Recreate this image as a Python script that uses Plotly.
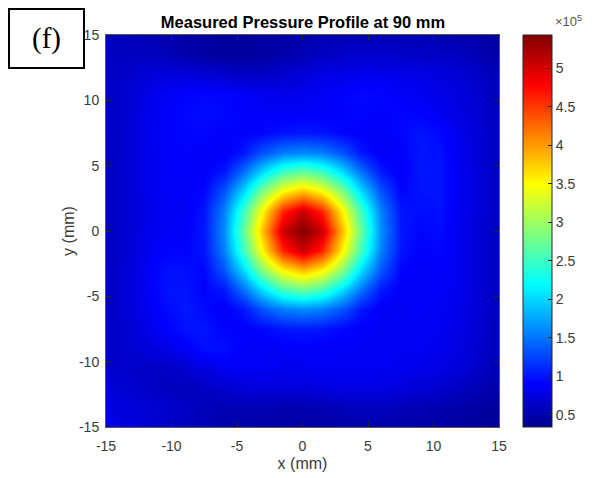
import plotly.graph_objects as go

# grid coordinates (mm)
x_mm = [-15, -13.5, -12, -10.5, -9, -7.5, -6, -4.5, -3, -1.5, 0, 1.5, 3, 4.5, 6, 7.5, 9, 10.5, 12, 13.5, 15]
y_mm = [15, 13.5, 12, 10.5, 9, 7.5, 6, 4.5, 3, 1.5, 0, -1.5, -3, -4.5, -6, -7.5, -9, -10.5, -12, -13.5, -15]

# measured pressure (x 1e5 Pa), rows follow y_mm (top to bottom)
pressure_1e5 = [
    [0.62,0.58,0.54,0.50,0.47,0.45,0.44,0.44,0.45,0.47,0.50,0.52,0.54,0.55,0.55,0.55,0.54,0.52,0.50,0.48,0.44],
    [0.60,0.60,0.60,0.56,0.50,0.45,0.42,0.42,0.45,0.50,0.55,0.60,0.64,0.66,0.66,0.64,0.63,0.62,0.60,0.54,0.47],
    [0.60,0.64,0.70,0.74,0.72,0.70,0.66,0.62,0.62,0.66,0.72,0.78,0.80,0.82,0.82,0.80,0.78,0.74,0.70,0.62,0.52],
    [0.60,0.68,0.78,0.86,0.90,0.93,0.92,0.88,0.83,0.80,0.82,0.86,0.90,0.95,0.92,0.88,0.84,0.80,0.74,0.66,0.54],
    [0.60,0.68,0.80,0.88,0.94,0.96,0.94,0.90,0.88,0.87,0.88,0.89,0.90,0.92,0.90,0.92,0.92,0.84,0.76,0.68,0.56],
    [0.60,0.68,0.80,0.89,0.93,0.93,0.90,0.90,0.93,1.00,1.02,1.00,0.93,0.89,0.87,0.93,1.00,0.94,0.80,0.70,0.56],
    [0.58,0.68,0.80,0.88,0.91,0.88,0.87,1.02,1.34,1.55,1.62,1.55,1.34,1.02,0.86,0.90,1.02,0.98,0.82,0.70,0.56],
    [0.58,0.68,0.80,0.88,0.89,0.88,1.02,1.48,2.04,2.53,2.72,2.53,2.04,1.48,1.02,0.87,1.02,1.00,0.84,0.72,0.57],
    [0.58,0.68,0.80,0.87,0.87,0.93,1.34,2.04,2.90,3.55,3.85,3.55,2.90,2.04,1.34,0.92,1.00,1.00,0.84,0.72,0.58],
    [0.58,0.68,0.79,0.85,0.86,1.00,1.55,2.53,3.55,4.60,5.05,4.60,3.55,2.53,1.55,1.00,0.97,0.98,0.84,0.72,0.58],
    [0.58,0.68,0.80,0.87,0.88,1.02,1.62,2.72,3.85,5.05,5.43,5.05,3.85,2.72,1.62,1.02,0.93,0.96,0.82,0.70,0.57],
    [0.58,0.68,0.82,0.91,0.91,1.00,1.55,2.53,3.55,4.60,5.05,4.60,3.55,2.53,1.55,1.00,0.89,0.93,0.82,0.70,0.57],
    [0.60,0.70,0.84,0.98,0.97,0.93,1.34,2.04,2.90,3.55,3.85,3.55,2.90,2.04,1.34,0.92,0.87,0.90,0.82,0.70,0.56],
    [0.60,0.70,0.84,0.99,1.01,0.91,1.02,1.48,2.04,2.53,2.72,2.53,2.04,1.48,1.02,0.87,0.87,0.88,0.82,0.70,0.56],
    [0.60,0.70,0.82,0.95,1.03,0.95,0.87,1.02,1.34,1.55,1.62,1.55,1.34,1.02,0.86,0.86,0.87,0.86,0.80,0.70,0.55],
    [0.60,0.68,0.78,0.89,0.99,1.01,0.91,0.88,0.93,1.00,1.02,1.00,0.93,0.88,0.86,0.86,0.86,0.84,0.78,0.68,0.54],
    [0.60,0.66,0.72,0.78,0.87,0.97,0.98,0.89,0.87,0.88,0.89,0.88,0.87,0.86,0.85,0.85,0.85,0.82,0.76,0.66,0.54],
    [0.64,0.64,0.62,0.62,0.66,0.76,0.85,0.87,0.85,0.83,0.83,0.85,0.85,0.85,0.85,0.83,0.80,0.78,0.72,0.62,0.52],
    [0.70,0.68,0.64,0.60,0.58,0.60,0.66,0.72,0.74,0.74,0.74,0.76,0.78,0.78,0.77,0.74,0.70,0.66,0.60,0.54,0.47],
    [0.76,0.74,0.70,0.66,0.62,0.56,0.54,0.54,0.54,0.52,0.52,0.54,0.56,0.58,0.58,0.56,0.54,0.52,0.48,0.45,0.42],
    [0.77,0.74,0.70,0.64,0.60,0.54,0.50,0.48,0.46,0.45,0.45,0.46,0.48,0.50,0.50,0.48,0.46,0.44,0.42,0.40,0.38],
]

axis_ticks = [-15, -10, -5, 0, 5, 10, 15]
axis_labels = ["-15", "-10", "-5", "0", "5", "10", "15"]
cbar_ticks = [0.5, 1, 1.5, 2, 2.5, 3, 3.5, 4, 4.5, 5]
cbar_labels = ["0.5", "1", "1.5", "2", "2.5", "3", "3.5", "4", "4.5", "5"]
z_min, z_max = 0.344, 5.43

jet = [
    [0.0, "rgb(0,0,143)"],
    [0.111, "rgb(0,0,255)"],
    [0.365, "rgb(0,255,255)"],
    [0.619, "rgb(255,255,0)"],
    [0.873, "rgb(255,0,0)"],
    [1.0, "rgb(128,0,0)"],
]

TXT = "#3a3a3a"
FONT = "Liberation Sans, Arial, sans-serif"

fig = go.Figure(go.Heatmap(
    x=x_mm, y=y_mm, z=pressure_1e5,
    zmin=z_min, zmax=z_max, zsmooth="best", colorscale=jet,
    colorbar=dict(
        thickness=29, thicknessmode="pixels", len=1, lenmode="fraction",
        x=1.061, xanchor="left", y=0.5, yanchor="middle", xpad=0, ypad=0,
        outlinecolor="#262626", outlinewidth=1,
        ticks="inside", ticklen=4, tickcolor="#262626",
        tickvals=cbar_ticks, ticktext=cbar_labels,
        tickfont=dict(family=FONT, size=14, color=TXT),
    ),
))

axis_common = dict(
    range=[-15, 15], tickvals=axis_ticks, ticktext=axis_labels,
    ticks="inside", ticklen=5, automargin=False,
    tickcolor="#262626", showline=True, linecolor="#555555", linewidth=1,
    mirror="ticks", showgrid=False, zeroline=False,
    tickfont=dict(family=FONT, size=14, color=TXT),
)

fig.update_layout(
    width=592, height=478,
    margin=dict(l=106, r=93, t=35, b=51),
    paper_bgcolor="white", plot_bgcolor="white",
    title=dict(text="<b>Measured Pressure Profile at 90 mm</b>", x=(303 / 592), xanchor="center",
               y=1 - 22 / 478, yanchor="middle",
               font=dict(family=FONT, size=16.5, color="black")),
    xaxis=dict(axis_common, ticklabelstandoff=6,
               title=dict(text="x (mm)", font=dict(family=FONT, size=16, color=TXT), standoff=5)),
    yaxis=dict(axis_common, ticklabelstandoff=3,
               title=dict(text="y (mm)", font=dict(family=FONT, size=16, color=TXT), standoff=0)),
    shapes=[dict(type="rect", xref="paper", yref="paper",
                 x0=-0.2468, x1=-0.056, y0=0.9158, y1=1.0663,
                 line=dict(color="black", width=2), fillcolor="white", layer="above")],
    annotations=[
        dict(text="(f)", xref="paper", yref="paper", x=-0.1514, y=0.9898,
             showarrow=False, xanchor="center", yanchor="middle",
             font=dict(family="Liberation Serif, Times New Roman, serif", size=29, color="black")),
        dict(text="×10<sup>5</sup>", xref="paper", yref="paper", x=1.1756, y=1.036,
             showarrow=False, xanchor="center", yanchor="middle",
             font=dict(family=FONT, size=13, color="#555555")),
    ],
)

fig.write_html("out.html")
